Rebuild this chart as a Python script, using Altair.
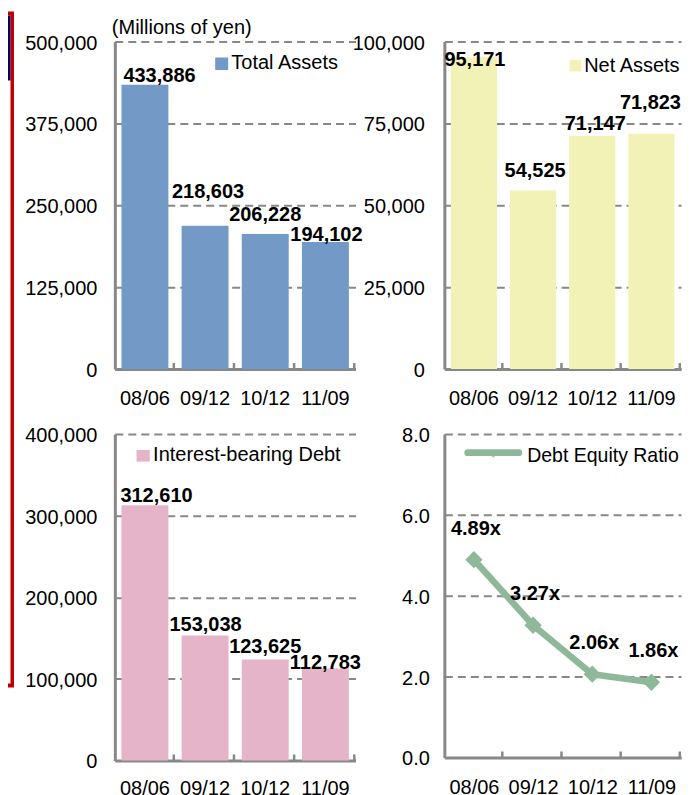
import altair as alt
import pandas as pd

# ---------------- data ----------------
PERIODS = ["08/06", "09/12", "10/12", "11/09"]
TOTAL_ASSETS = [433886, 218603, 206228, 194102]
NET_ASSETS = [95171, 54525, 71147, 71823]
INTEREST_DEBT = [312610, 153038, 123625, 112783]
DE_RATIO = [4.89, 3.27, 2.06, 1.86]

TOTAL_TICKS = [0, 125000, 250000, 375000, 500000]
NET_TICKS = [0, 25000, 50000, 75000, 100000]
DEBT_TICKS = [0, 100000, 200000, 300000, 400000]
RATIO_TICKS = [0.0, 2.0, 4.0, 6.0, 8.0]

SERIES_NAMES = ["Total Assets", "Net Assets", "Interest-bearing Debt", "Debt Equity Ratio"]
UNIT_NOTE = "(Millions of yen)"

# ---------------- style / layout ----------------
FONT = "Liberation Sans, Arial, Helvetica, sans-serif"
GRAY = "#888888"
BLUE = "#7399C6"
YELLOW = "#F2F2B6"
PINK = "#E6B4C8"
GREEN = "#8FB89A"
RED = "#C00000"
NAVY = "#000066"
W1 = 241          # left column plot width
W2 = 237          # right column plot width (keeps the page from overflowing)
H_TOP = 328
H_DEBT = 327
H_RATIO = 324

# manual (dx, dy) nudges of the data labels (pixels, relative to bar top)
TOTAL_NUDGE = [(14.6, -8.5), (3, -33.5), (0, -18.5), (1, -6.5)]
NET_NUDGE = [(1, 3), (2, -19.5), (3, -12.5), (-1, -30.5)]
DEBT_NUDGE = [(11.6, -9), (0.5, -10.5), (0, -12.5), (0, -5.5)]
RATIO_DY = -31


def y_axis(ticks, fmt, pad):
    return alt.Axis(values=ticks, format=fmt, grid=True, ticks=False, tickSize=0,
                    labelPadding=pad, labelFlush=False, labelOffset=1.5, domain=True)


def x_axis(pad):
    return alt.Axis(labelAngle=0, ticks=False, tickSize=0, grid=False,
                    labelPadding=pad, domain=True)


def legend_square(name, color, box, text_xy):
    leg = alt.Chart(pd.DataFrame({"name": [name]}))
    sw = leg.mark_rect(color=color).encode(
        x=alt.value(box[0]), x2=alt.value(box[1]), y=alt.value(box[2]), y2=alt.value(box[3]))
    tx = leg.mark_text(align="left", baseline="middle", font=FONT, fontSize=20,
                       color="black").encode(
        x=alt.value(text_xy[0]), y=alt.value(text_xy[1]), text="name:N")
    return [sw, tx]


def bar_panel(values, ticks, color, width, height, nudges, name, box, text_xy, ypad, xpad,
              extra=None):
    df = pd.DataFrame({"period": PERIODS, "value": values})
    df["label"] = [f"{v:,}" for v in values]
    base = alt.Chart(df)
    x = alt.X("period:N", sort=PERIODS, title=None,
              scale=alt.Scale(paddingInner=0.22, paddingOuter=0.11), axis=x_axis(xpad))
    y = alt.Y("value:Q", title=None,
              scale=alt.Scale(domain=[ticks[0], ticks[-1]], nice=False),
              axis=y_axis(ticks, ",d", ypad))
    bars = base.mark_bar(color=color).encode(x=x, y=y)
    tick_marks = base.mark_rule(color=GRAY, strokeWidth=2.5, xOffset=width / 8 - 1.2).encode(
        x=alt.X("period:N", sort=PERIODS, bandPosition=0.5),
        y=alt.value(height), y2=alt.value(height - 6))
    labels = []
    for p, (dx, dy) in zip(PERIODS, nudges):
        labels.append(
            base.transform_filter(alt.datum.period == p)
            .mark_text(font=FONT, fontSize=20, fontWeight="bold", color="black",
                       baseline="middle", dx=dx, dy=dy)
            .encode(x=alt.X("period:N", sort=PERIODS), y="value:Q", text="label:N"))
    layers = (extra or []) + [bars, tick_marks] + labels + legend_square(name, color, box, text_xy)
    return alt.layer(*layers).properties(width=width, height=height)


# decorations of panel 1: cropped table frame at the far left and the unit note
deco = alt.Chart(pd.DataFrame({"note": [UNIT_NOTE]}))
frame = [
    deco.mark_rect(color=RED).encode(x=alt.value(-107), x2=alt.value(-101),
                                     y=alt.value(-30), y2=alt.value(647)),
    deco.mark_rect(color="white").encode(x=alt.value(-107), x2=alt.value(-104.5),
                                         y=alt.value(-26), y2=alt.value(643)),
    deco.mark_rect(color=NAVY).encode(x=alt.value(-107), x2=alt.value(-104.5),
                                      y=alt.value(-26), y2=alt.value(39)),
    deco.mark_text(align="left", baseline="alphabetic", font=FONT, fontSize=20,
                   color="black").encode(x=alt.value(-3), y=alt.value(-8), text="note:N"),
]

p1 = bar_panel(TOTAL_ASSETS, TOTAL_TICKS, BLUE, W1, H_TOP, TOTAL_NUDGE, SERIES_NAMES[0],
               (100.5, 113.5, 16, 28.5), (116.7, 22), 18, 19.5, extra=frame)
p2 = bar_panel(NET_ASSETS, NET_TICKS, YELLOW, W2, H_TOP, NET_NUDGE, SERIES_NAMES[1],
               (125.5, 137, 18.3, 30), (140, 24.5), 20, 19.5)
p3 = bar_panel(INTEREST_DEBT, DEBT_TICKS, PINK, W1, H_DEBT, DEBT_NUDGE, SERIES_NAMES[2],
               (21.7, 35, 16, 27.7), (38.3, 21), 18, 18)

# ---- panel 4: debt equity ratio line ----
rdf = pd.DataFrame({"period": PERIODS, "ratio": DE_RATIO})
rdf["label"] = [f"{v:.2f}x" for v in DE_RATIO]
rbase = alt.Chart(rdf)
rx = alt.X("period:N", sort=PERIODS, title=None,
           scale=alt.Scale(type="point", padding=0.5), axis=x_axis(20.5))
ry = alt.Y("ratio:Q", title=None, scale=alt.Scale(domain=[0, 8], nice=False),
           axis=y_axis(RATIO_TICKS, ".1f", 15))
rline = rbase.mark_line(color=GREEN, strokeWidth=6.5, strokeJoin="round").encode(x=rx, y=ry)
rpts = rbase.mark_point(shape="diamond", filled=True, size=300, color=GREEN,
                        opacity=1).encode(x=rx, y=ry)
rlbl = rbase.mark_text(font=FONT, fontSize=20, fontWeight="bold", color="black",
                       baseline="middle", dy=RATIO_DY, dx=2).encode(x=rx, y=ry, text="label:N")
rticks = rbase.mark_rule(color=GRAY, strokeWidth=2.5, xOffset=W2 / 8 - 1.2).encode(
    x=alt.X("period:N", sort=PERIODS), y=alt.value(H_RATIO), y2=alt.value(H_RATIO - 6))
rleg = alt.Chart(pd.DataFrame({"name": [SERIES_NAMES[3]]}))
rleg_line = rleg.mark_rule(color=GREEN, strokeWidth=7, strokeCap="round").encode(
    x=alt.value(23.5), x2=alt.value(74.5), y=alt.value(18.7))
rleg_pt = rleg.mark_point(shape="diamond", filled=True, size=70, color=GREEN,
                          opacity=1).encode(x=alt.value(49), y=alt.value(19.5))
rleg_txt = rleg.mark_text(align="left", baseline="middle", font=FONT, fontSize=19.5,
                          color="black").encode(x=alt.value(83), y=alt.value(22), text="name:N")
p4 = alt.layer(rline, rpts, rticks, rlbl, rleg_line, rleg_pt, rleg_txt).properties(
    width=W2, height=H_RATIO)

chart = (
    alt.concat(p1, p2, p3, p4, columns=2, spacing={"row": 65, "column": 89}, bounds="flush")
    .properties(padding={"left": 0, "top": 3, "right": 0, "bottom": 0})
    .configure_view(stroke=None)
    .configure_axis(labelFont=FONT, labelFontSize=20, labelColor="#000000",
                    domainColor=GRAY, domainWidth=3, gridColor=GRAY, gridDash=[8, 5],
                    gridWidth=2)
)

chart.save("out.html", embed_options={"renderer": "svg", "actions": False})
